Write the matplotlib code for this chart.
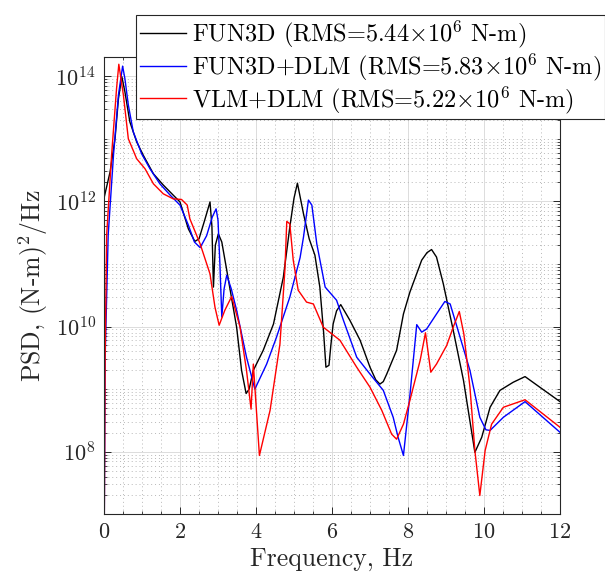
import numpy as np
import matplotlib
matplotlib.use("Agg")
import matplotlib.pyplot as plt
from matplotlib.ticker import LogLocator, MultipleLocator, FixedLocator, NullFormatter

plt.rcParams['font.family'] = 'serif'
plt.rcParams['font.serif'] = ['cmr10']
plt.rcParams['mathtext.fontset'] = 'cm'
plt.rcParams['axes.formatter.use_mathtext'] = True

# PSD, stored as log10 of (N-m)^2/Hz
f_fun3d = [0, 0.16, 0.29, 0.38, 0.47, 0.55, 0.68, 0.86, 1.03, 1.3, 1.56, 1.82, 2.0,
           2.22, 2.39, 2.5, 2.65, 2.79, 2.84, 2.88, 2.93, 3.01, 3.1, 3.23, 3.49, 3.62,
           3.74, 3.82, 3.93, 4.19, 4.46, 4.72, 4.89, 5.0, 5.09, 5.25, 5.4, 5.55, 5.68,
           5.78, 5.84, 5.92, 5.97, 6.03, 6.12, 6.23, 6.47, 6.74, 7.0, 7.15, 7.26, 7.35,
           7.44, 7.7, 7.88, 8.05, 8.36, 8.5, 8.62, 8.75, 8.93, 9.19, 9.46, 9.76, 9.94,
           10.16, 10.42, 10.77, 11.08, 11.47, 12.0]
psd_fun3d = [12.05, 12.47, 13.0, 13.64, 13.99, 13.75, 13.27, 12.95, 12.74, 12.44, 12.26,
             12.1, 11.99, 11.56, 11.36, 11.4, 11.7, 11.99, 11.6, 10.63, 11.3, 11.48, 11.35,
             10.9, 9.99, 9.3, 8.93, 9.0, 9.3, 9.62, 10.04, 10.79, 11.59, 12.05, 12.29, 11.8,
             11.4, 11.14, 10.63, 9.9, 9.35, 9.38, 9.7, 10.04, 10.25, 10.35, 10.1, 9.78, 9.35,
             9.15, 9.08, 9.12, 9.24, 9.62, 10.2, 10.55, 11.06, 11.18, 11.23, 11.11, 10.68,
             9.94, 9.14, 7.99, 8.23, 8.71, 8.98, 9.11, 9.2, 9.03, 8.8]

f_fun3d_dlm = [0, 0.03, 0.11, 0.25, 0.38, 0.49, 0.55, 0.64, 0.77, 0.99, 1.21, 1.47, 1.74,
               2.0, 2.22, 2.38, 2.53, 2.7, 2.85, 2.95, 3.0, 3.05, 3.1, 3.16, 3.23, 3.35,
               3.49, 3.75, 3.97, 4.28, 4.54, 4.89, 5.16, 5.25, 5.38, 5.47, 5.6, 5.82, 6.12,
               6.3, 6.65, 7.0, 7.35, 7.61, 7.74, 7.88, 8.05, 8.23, 8.36, 8.49, 8.75, 8.97,
               9.11, 9.37, 9.63, 9.89, 10.05, 10.16, 10.51, 11.08, 12.0]
psd_fun3d_dlm = [6.0, 9.5, 11.46, 12.74, 13.7, 14.16, 13.96, 13.54, 13.11, 12.76, 12.52,
                 12.28, 12.1, 11.94, 11.62, 11.35, 11.26, 11.45, 11.75, 11.88, 11.7, 11.0,
                 10.15, 10.6, 10.82, 10.6, 10.26, 9.51, 9.0, 9.4, 9.83, 10.47, 11.1, 11.43,
                 12.02, 11.94, 11.32, 10.63, 10.42, 10.1, 9.51, 9.24, 8.98, 8.55, 8.23, 7.94,
                 8.9, 10.03, 9.91, 9.96, 10.2, 10.4, 10.36, 9.83, 9.3, 8.55, 8.35, 8.34,
                 8.55, 8.8, 8.31]

f_vlm_dlm = [0, 0.03, 0.07, 0.2, 0.33, 0.39, 0.51, 0.64, 0.86, 1.08, 1.3, 1.56, 1.82, 2.04,
             2.19, 2.26, 2.53, 2.79, 2.92, 3.03, 3.18, 3.36, 3.58, 3.75, 3.87, 3.93, 4.0,
             4.09, 4.37, 4.63, 4.76, 4.81, 4.89, 4.98, 5.11, 5.33, 5.51, 5.77, 6.21, 6.65,
             7.0, 7.31, 7.57, 7.7, 7.88, 8.05, 8.32, 8.46, 8.6, 8.75, 9.02, 9.19, 9.35, 9.47,
             9.63, 9.76, 9.89, 10.03, 10.2, 10.51, 11.08, 12.0]
psd_vlm_dlm = [6.0, 9.5, 11.46, 12.74, 13.8, 14.19, 13.7, 13.0, 12.68, 12.52, 12.28, 12.12,
               12.04, 12.03, 11.94, 11.72, 11.32, 10.84, 10.31, 10.02, 10.26, 10.48, 9.99,
               9.3, 8.68, 9.4, 8.76, 7.94, 8.66, 9.72, 10.9, 11.68, 11.64, 11.06, 10.58,
               10.39, 10.36, 9.99, 9.78, 9.35, 9.03, 8.66, 8.28, 8.2, 8.44, 8.82, 9.46, 9.9,
               9.27, 9.4, 9.7, 9.99, 10.24, 9.88, 9.03, 8.02, 7.3, 8.02, 8.44, 8.71, 8.83, 8.39]

labels = [r'FUN3D (RMS=5.44$\times10^6$ N-m)',
          r'FUN3D+DLM (RMS=5.83$\times10^6$ N-m)',
          r'VLM+DLM (RMS=5.22$\times10^6$ N-m)']

fig = plt.figure(figsize=(6.05, 5.83), dpi=100)
ax = fig.add_axes([104 / 605, 1 - 514.3 / 583, 456 / 605, (514.3 - 57.3) / 583])

ax.plot(f_fun3d, 10.0 ** np.array(psd_fun3d), color='k', lw=1.0, label=labels[0])
ax.plot(f_fun3d_dlm, 10.0 ** np.array(psd_fun3d_dlm), color='b', lw=1.0, label=labels[1])
ax.plot(f_vlm_dlm, 10.0 ** np.array(psd_vlm_dlm), color='r', lw=1.0, label=labels[2])

ax.set_yscale('log')
ax.set_xlim(0, 12)
ax.set_ylim(1e7, 2e14)
ax.xaxis.set_major_locator(MultipleLocator(2))
ax.xaxis.set_minor_locator(MultipleLocator(0.5))
ax.yaxis.set_major_locator(FixedLocator([1e8, 1e10, 1e12, 1e14]))
ax.yaxis.set_minor_locator(LogLocator(base=10, subs=np.arange(1, 10), numticks=30))
ax.yaxis.set_minor_formatter(NullFormatter())

ax.grid(True, which='major', color='#dcdcdc', lw=0.7, ls='-')
ax.grid(True, which='minor', color='#b8b8b8', lw=0.7, ls=(0, (1, 3)))
ax.set_axisbelow(True)

for s in ax.spines.values():
    s.set_color('#262626')
    s.set_linewidth(0.8)
ax.tick_params(which='both', direction='in', top=True, right=True, colors='#262626',
               labelsize=16, pad=6)
ax.tick_params(which='major', length=5, width=0.7)
ax.tick_params(which='minor', length=2.5, width=0.6)

ax.set_xlabel('Frequency, Hz', fontsize=18.5, color='#262626', labelpad=4)
ax.set_ylabel(r'PSD, (N-m)$^2$/Hz', fontsize=18.5, color='#262626', labelpad=4)

leg = ax.legend(loc='upper right', bbox_to_anchor=(1.0, 1 - 15 / 583),
                bbox_transform=fig.transFigure, borderaxespad=0, fontsize=17.5,
                fancybox=False, framealpha=1, edgecolor='#262626',
                handlelength=1.9, handletextpad=0.25, labelspacing=0.05, borderpad=0.15)
leg.get_frame().set_linewidth(0.8)
leg.set_zorder(10)

fig.savefig('out.png', dpi=100)
